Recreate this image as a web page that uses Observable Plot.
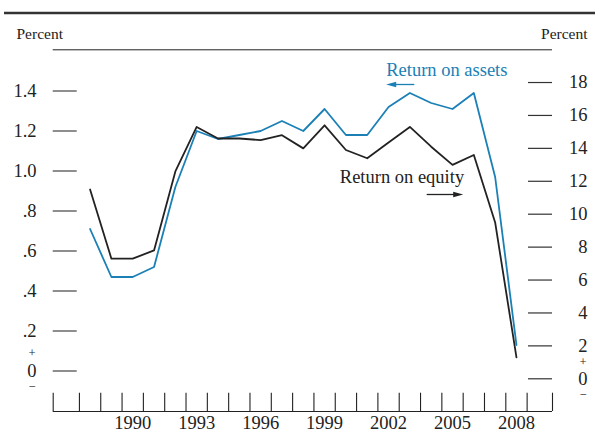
<!DOCTYPE html>
<html>
<head>
<meta charset="utf-8">
<script src="https://cdn.jsdelivr.net/npm/d3@7"></script>
<script src="https://cdn.jsdelivr.net/npm/@observablehq/plot@0.6"></script>
<style>
  html, body { margin: 0; padding: 0; background: white; }
  #chart svg { display: block; }
</style>
</head>
<body>
<div id="chart"></div>
<script>
// ---- data ----
const years = [1988, 1989, 1990, 1991, 1992, 1993, 1994, 1995, 1996, 1997, 1998,
               1999, 2000, 2001, 2002, 2003, 2004, 2005, 2006, 2007, 2008];
const returnOnAssets = [0.71, 0.47, 0.47, 0.52, 0.92, 1.20, 1.16, 1.18, 1.20, 1.25, 1.20,
                        1.31, 1.18, 1.18, 1.32, 1.39, 1.34, 1.31, 1.39, 0.97, 0.13];
const returnOnEquity = [11.5, 7.3, 7.3, 7.8, 12.6, 15.3, 14.6, 14.6, 14.5, 14.8, 14.0,
                        15.4, 13.9, 13.4, 14.35, 15.3, 14.1, 13.0, 13.6, 9.5, 1.3];
const leftTicks = [0, 0.2, 0.4, 0.6, 0.8, 1.0, 1.2, 1.4];
const leftTickLabels = ["0", ".2", ".4", ".6", ".8", "1.0", "1.2", "1.4"];
const rightTicks = [0, 2, 4, 6, 8, 10, 12, 14, 16, 18];
const xLabelYears = [1990, 1993, 1996, 1999, 2002, 2005, 2008];

// ---- layout ----
const W = 595, H = 437;
const mL = 52.7, mR = 43, mT = 0, mB = 26;
const frameW = W - mL - mR;
const xDomain = [1986.27, 2009.69];
const yDomain = [-0.2025, 1.8525];        // left axis (ROA) units
const pxToY = p => yDomain[1] - (p - mT) / (H - mB - mT) * (yDomain[1] - yDomain[0]);
const pxToX = p => xDomain[0] + (p - mL) / frameW * (xDomain[1] - xDomain[0]);
// right axis (ROE) mapped into left-axis units
const roeToY = v => (16.46 * v - 7.8) / 200;

const blue = "#1a80b6";
const ink = "#222";
const font = "Liberation Serif, Times New Roman, serif";
const fs = 18.5;
const fsSign = 12.5;

const table = years.map((year, i) => ({year, roa: returnOnAssets[i], roe: returnOnEquity[i]}));
const xTickPositions = [xDomain[0], ...d3.range(1987.5, 2009, 1), xDomain[1]];

const arrowHead = {
  draw(ctx) { ctx.moveTo(0, 0); ctx.lineTo(10, -2.8); ctx.lineTo(10, 2.8); ctx.closePath(); }
};

const chart = Plot.plot({
  width: W, height: H,
  marginLeft: mL, marginRight: mR, marginTop: mT, marginBottom: mB,
  x: {domain: xDomain, axis: null},
  y: {domain: yDomain, axis: null},
  style: {fontFamily: font, background: "white", color: ink},
  marks: [
    // header rules
    Plot.ruleY([pxToY(12.5)], {stroke: "#333", strokeWidth: 2.6, insetLeft: -(mL - 4), insetRight: -mR}),
    Plot.ruleY([pxToY(49.3)], {stroke: ink, strokeWidth: 1}),
    Plot.text(["Percent"], {frameAnchor: "left", dx: 16 - mL, y: pxToY(34), textAnchor: "start", fontSize: 15.5, fill: ink}),
    Plot.text(["Percent"], {frameAnchor: "right", dx: 587 - (W - mR), y: pxToY(34), textAnchor: "end", fontSize: 15.5, fill: ink}),

    // left axis
    Plot.ruleY(leftTicks, {y: d => d, stroke: "#444", strokeWidth: 1.2, insetRight: frameW - 24}),
    Plot.text(leftTicks, {y: d => d, text: (d, i) => leftTickLabels[i], frameAnchor: "left", dx: 36 - mL, textAnchor: "end", fontSize: fs, fill: ink}),
    Plot.text(["+"], {y: pxToY(352), frameAnchor: "left", dx: 31.5 - mL, textAnchor: "middle", fontSize: fsSign, fill: ink}),
    Plot.text(["−"], {y: pxToY(386), frameAnchor: "left", dx: 31.5 - mL, textAnchor: "middle", fontSize: fsSign, fill: ink}),

    // right axis
    Plot.ruleY(rightTicks, {y: roeToY, stroke: "#333", strokeWidth: 1.2, insetLeft: frameW - 24}),
    Plot.text(rightTicks, {y: roeToY, text: d => String(d), frameAnchor: "right", dx: 587 - (W - mR), textAnchor: "end", fontSize: fs, fill: ink}),
    Plot.text(["+"], {y: pxToY(361), frameAnchor: "right", dx: 582.5 - (W - mR), textAnchor: "middle", fontSize: fsSign, fill: ink}),
    Plot.text(["−"], {y: pxToY(394), frameAnchor: "right", dx: 582.5 - (W - mR), textAnchor: "middle", fontSize: fsSign, fill: ink}),

    // x axis
    Plot.ruleY([yDomain[0]], {stroke: ink, strokeWidth: 1.2}),
    Plot.ruleX(xTickPositions, {x: d => d, stroke: ink, strokeWidth: 1.1, insetTop: 392.7}),
    Plot.text(xLabelYears, {x: d => d, text: d => String(d), frameAnchor: "bottom", dy: 17, fontSize: fs, fill: ink}),

    // series
    Plot.line(table, {x: "year", y: "roa", stroke: blue, strokeWidth: 1.8}),
    Plot.line(table, {x: "year", y: d => roeToY(d.roe), stroke: ink, strokeWidth: 1.8}),

    // annotations
    Plot.text(["Return on assets"], {x: pxToX(385.7), y: pxToY(69.5), textAnchor: "start", fontSize: fs, fill: blue}),
    Plot.ruleY([pxToY(84)], {x1: pxToX(390), x2: pxToX(414.3), stroke: blue, strokeWidth: 1.3}),
    Plot.dot([0], {x: pxToX(385.7), y: pxToY(84), symbol: arrowHead, fill: blue, stroke: null, r: 4}),

    Plot.text(["Return on equity"], {x: pxToX(339.3), y: pxToY(176.5), textAnchor: "start", fontSize: fs, fill: ink}),
    Plot.ruleY([pxToY(194)], {x1: pxToX(426.7), x2: pxToX(458), stroke: ink, strokeWidth: 1.3}),
    Plot.dot([0], {x: pxToX(462.7), y: pxToY(194), symbol: arrowHead, rotate: 180, fill: ink, stroke: null, r: 4})
  ]
});
document.getElementById("chart").append(chart);
</script>
</body>
</html>
